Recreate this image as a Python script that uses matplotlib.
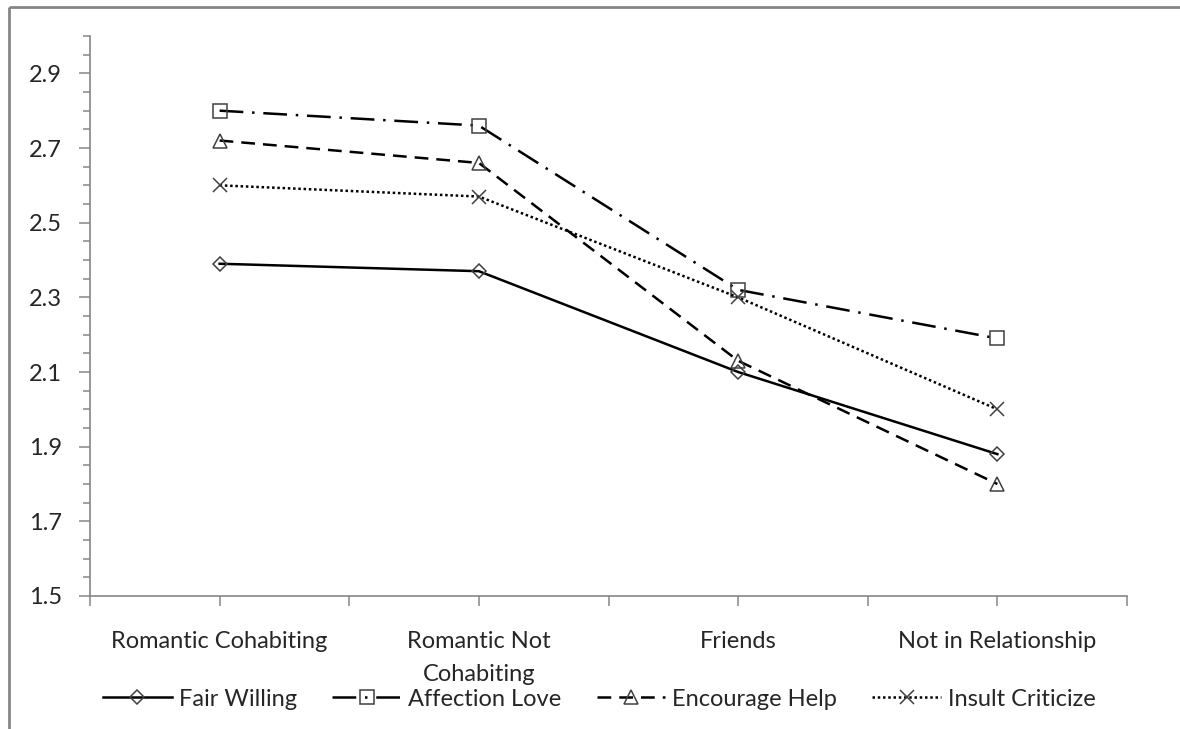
import matplotlib.pyplot as plt
from matplotlib.lines import Line2D
import numpy as np

plt.rcParams['font.family'] = ['Lato', 'DejaVu Sans']

categories = ['Romantic Cohabiting', 'Romantic Not\nCohabiting', 'Friends', 'Not in Relationship']
fair_willing = [2.39, 2.37, 2.10, 1.88]
affection_love = [2.80, 2.76, 2.32, 2.19]
encourage_help = [2.72, 2.66, 2.13, 1.80]
insult_criticize = [2.60, 2.57, 2.30, 2.00]

series = [
    ('Fair Willing', fair_willing, '-', 'D', 6.8),
    ('Affection Love', affection_love, (0, (9.5, 3.5, 1, 3.5)), 's', 9.5),
    ('Encourage Help', encourage_help, (0, (5.5, 3.2)), '^', 10),
    ('Insult Criticize', insult_criticize, (0, (1, 1.1)), 'x', 10),
]

axis_gray = '#868686'
text_col = '#262626'
fig = plt.figure(figsize=(11.8, 7.29), dpi=100)
ax = fig.add_axes([90 / 1180, 1 - 596 / 729, 1037 / 1180, 560 / 729])

x = np.arange(len(categories))
for name, vals, ls, mk, ms in series:
    ax.plot(x, vals, color='black', linestyle=ls, linewidth=1.8,
            marker=mk, markersize=ms, markerfacecolor='none',
            markeredgecolor='#404040', markeredgewidth=1.1, label=name)

yt = np.arange(1.5, 2.95, 0.2)
ax.set_xlim(-0.5, 3.5)
ax.set_ylim(1.5, 3.0)
ax.set_yticks(yt)
ax.set_yticklabels([f'{v:.1f}' for v in yt])
ax.set_yticks(np.arange(1.5, 3.01, 0.05), minor=True)
ax.set_xticks(x)
ax.set_xticklabels(categories, linespacing=1.7)
ax.set_xticks(np.arange(-0.5, 3.6, 1.0), minor=True)

for s in ['top', 'right']:
    ax.spines[s].set_visible(False)
for s in ['left', 'bottom']:
    ax.spines[s].set_color(axis_gray)
    ax.spines[s].set_linewidth(1.2)

ax.tick_params(axis='y', which='major', length=8, width=1.1, color=axis_gray,
               labelsize=17, labelcolor=text_col, pad=12)
ax.tick_params(axis='y', which='minor', length=5, width=1.1, color=axis_gray)
ax.tick_params(axis='x', which='both', length=7, width=1.1, color=axis_gray,
               labelsize=17, labelcolor=text_col, pad=18)

leg = fig.legend(loc='center', bbox_to_anchor=(0.508, 1 - 699 / 729), ncol=4,
                 frameon=False, fontsize=17, handlelength=2.9, numpoints=1,
                 columnspacing=1.5, handletextpad=0.3, borderpad=0.1)
for t in leg.get_texts():
    t.set_color(text_col)

# chart area border (only top and left edges fall inside the picture)
yb = 1 - 7 / 729
xb = 9 / 1180
fig.add_artist(Line2D([xb, 1.02], [yb, yb], color=axis_gray, linewidth=2, solid_capstyle='butt'))
fig.add_artist(Line2D([xb, xb], [-0.02, yb], color=axis_gray, linewidth=2, solid_capstyle='butt'))

fig.savefig('out.png', dpi=100)
